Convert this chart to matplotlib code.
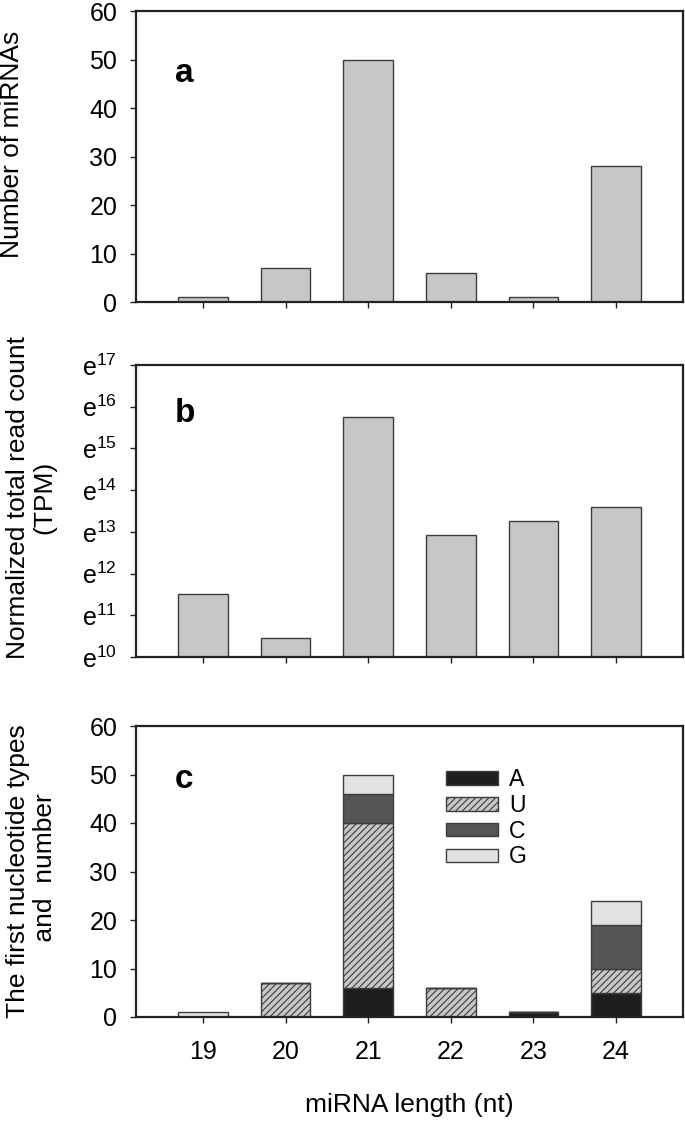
import numpy as np
import matplotlib
matplotlib.use('Agg')
from matplotlib import pyplot as plt
from matplotlib.ticker import NullLocator

plt.rcParams['font.family'] = ['Liberation Sans', 'DejaVu Sans']
plt.rcParams['mathtext.fontset'] = 'custom'
plt.rcParams['mathtext.rm'] = 'Liberation Sans'
plt.rcParams['hatch.linewidth'] = 0.8

# data
lengths = [19, 20, 21, 22, 23, 24]
mirna_counts = [1, 7, 50, 6, 1, 28]
# normalized total read count, read as exponent of e
read_exp = [11.5, 10.45, 15.75, 12.92, 13.25, 13.6]
nt_A = [0, 0, 6, 0, 1, 5]
nt_U = [0, 7, 34, 6, 0, 5]
nt_C = [0, 0, 6, 0, 0, 9]
nt_G = [1, 0, 4, 0, 0, 5]

bar_gray = '#c6c7c9'
edge = '#3c3c3c'
W, H = 685, 1125


def style_axes(ax):
    for sp in ax.spines.values():
        sp.set_linewidth(1.6)
        sp.set_color('#222222')
    ax.tick_params(direction='out', length=4.5, width=1, labelsize=18, color='#222222')
    ax.tick_params(axis='y', pad=9)
    ax.tick_params(axis='x', pad=9)
    ax.set_xlim(18.19, 24.81)
    ax.set_xticks(lengths)


def add_ax(top, bottom):
    return fig.add_axes([136 / W, 1 - bottom / H, 547 / W, (bottom - top) / H])


fig = plt.figure(figsize=(6.85, 11.25), dpi=100)

# panel a
ax1 = add_ax(11, 302)
ax1.bar(lengths, mirna_counts, width=0.6, color=bar_gray, edgecolor=edge, linewidth=1)
style_axes(ax1)
ax1.set_ylim(0, 60)
ax1.set_yticks([0, 10, 20, 30, 40, 50, 60])
ax1.set_xticklabels([])
ax1.set_ylabel('Number of miRNAs', fontsize=19)
ax1.yaxis.set_label_coords(-0.205, 0.54)
ax1.text(0.071, 0.756, 'a', transform=ax1.transAxes, fontsize=24, fontweight='bold')

# panel b
ax2 = add_ax(365, 657)
ax2.set_yscale('log', base=np.e)
ax2.bar(lengths, np.exp(read_exp), width=0.6, color=bar_gray, edgecolor=edge, linewidth=1)
style_axes(ax2)
ax2.set_ylim(np.exp(10), np.exp(17))
ax2.set_yticks(np.exp(np.arange(10, 18)))
ax2.set_yticklabels([r'$\mathregular{e^{%d}}$' % n for n in range(10, 18)])
ax2.yaxis.set_minor_locator(NullLocator())
ax2.set_xticklabels([])
ax2.set_ylabel('Normalized total read count\n(TPM)', fontsize=19, linespacing=1.15)
ax2.yaxis.set_label_coords(-0.145, 0.545)
ax2.text(0.071, 0.805, 'b', transform=ax2.transAxes, fontsize=24, fontweight='bold')

# panel c
ax3 = add_ax(726, 1017)
b1 = np.array(nt_A)
b2 = b1 + np.array(nt_U)
b3 = b2 + np.array(nt_C)
ax3.bar(lengths, nt_A, width=0.6, color='#1e1e1e', edgecolor=edge, linewidth=1, label='A')
ax3.bar(lengths, nt_U, width=0.6, bottom=b1, color=bar_gray, edgecolor=edge,
        linewidth=1, hatch='/////', label='U')
ax3.bar(lengths, nt_C, width=0.6, bottom=b2, color='#535557', edgecolor=edge, linewidth=1, label='C')
ax3.bar(lengths, nt_G, width=0.6, bottom=b3, color='#e1e2e3', edgecolor=edge, linewidth=1, label='G')
style_axes(ax3)
ax3.set_ylim(0, 60)
ax3.set_yticks([0, 10, 20, 30, 40, 50, 60])
ax3.set_xticklabels([str(x) for x in lengths])
ax3.tick_params(axis='x', pad=12)
ax3.set_ylabel('The first nucleotide types\n and  number', fontsize=19, linespacing=1.15)
ax3.yaxis.set_label_coords(-0.145, 0.5)
ax3.set_xlabel('miRNA length (nt)', fontsize=19)
ax3.xaxis.set_label_coords(0.5, -0.26)
ax3.text(0.071, 0.787, 'c', transform=ax3.transAxes, fontsize=24, fontweight='bold')
ax3.legend(loc='upper left', bbox_to_anchor=(0.567, 0.855), frameon=False, fontsize=16.5,
           handlelength=2.25, handleheight=0.52, handletextpad=0.5, labelspacing=0.12,
           borderpad=0, borderaxespad=0)

fig.savefig('out.png', dpi=100)
